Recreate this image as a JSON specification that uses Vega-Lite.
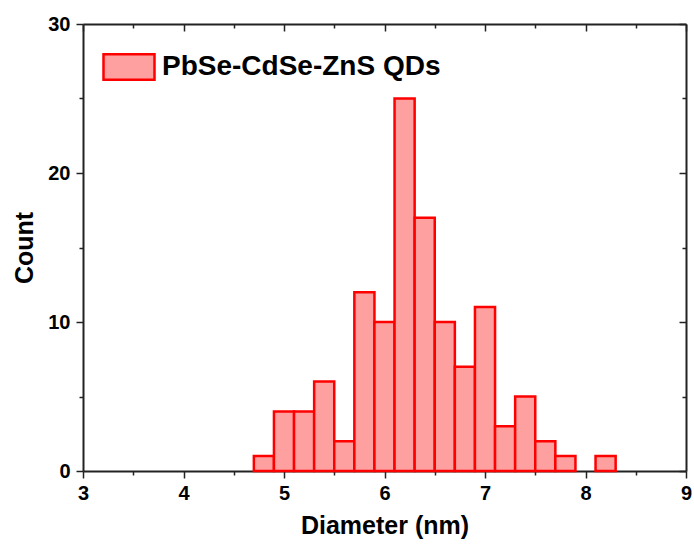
{
  "$schema": "https://vega.github.io/schema/vega-lite/v6.json",
  "autosize": {"type": "none"},
  "padding": {"left": 83, "top": 24, "right": 8, "bottom": 75},
  "width": 603,
  "height": 447,
  "config": {
    "view": {"stroke": null},
    "font": "Liberation Sans",
    "axis": {
      "labelFont": "Liberation Sans",
      "labelFontWeight": "bold",
      "labelFontSize": 20,
      "labelColor": "#000000",
      "titleFont": "Liberation Sans",
      "titleFontWeight": "bold",
      "titleFontSize": 25,
      "titleColor": "#000000",
      "domainColor": "#222222",
      "domainWidth": 2,
      "tickColor": "#222222",
      "tickWidth": 1.5,
      "grid": false
    }
  },
  "data": {
    "values": [
      {"start": 4.7, "end": 4.9, "count": 1},
      {"start": 4.9, "end": 5.1, "count": 4},
      {"start": 5.1, "end": 5.3, "count": 4},
      {"start": 5.3, "end": 5.5, "count": 6},
      {"start": 5.5, "end": 5.7, "count": 2},
      {"start": 5.7, "end": 5.9, "count": 12},
      {"start": 5.9, "end": 6.1, "count": 10},
      {"start": 6.1, "end": 6.3, "count": 25},
      {"start": 6.3, "end": 6.5, "count": 17},
      {"start": 6.5, "end": 6.7, "count": 10},
      {"start": 6.7, "end": 6.9, "count": 7},
      {"start": 6.9, "end": 7.1, "count": 11},
      {"start": 7.1, "end": 7.3, "count": 3},
      {"start": 7.3, "end": 7.5, "count": 5},
      {"start": 7.5, "end": 7.7, "count": 2},
      {"start": 7.7, "end": 7.9, "count": 1},
      {"start": 8.1, "end": 8.3, "count": 1}
    ]
  },
  "layer": [
    {
      "mark": {"type": "bar", "strokeWidth": 2.5, "fillOpacity": 1},
      "encoding": {
        "x": {
          "field": "start", "type": "quantitative",
          "scale": {"domain": [3, 9], "nice": false, "zero": false},
          "axis": {
            "orient": "bottom",
            "title": "Diameter (nm)",
            "titlePadding": 10,
            "values": [3, 3.5, 4, 4.5, 5, 5.5, 6, 6.5, 7, 7.5, 8, 8.5, 9],
            "labelExpr": "datum.value % 1 === 0 ? format(datum.value, 'd') : ''",
            "tickSize": {"condition": {"test": "datum.value % 1 === 0", "value": 7}, "value": 4},
            "labelPadding": 5,
            "labelFlush": false
          }
        },
        "x2": {"field": "end"},
        "y": {
          "field": "count", "type": "quantitative",
          "scale": {"domain": [0, 30], "nice": false},
          "axis": {
            "orient": "left",
            "title": "Count",
            "titlePadding": 10,
            "values": [0, 5, 10, 15, 20, 25, 30],
            "labelExpr": "datum.value % 10 === 0 ? format(datum.value, 'd') : ''",
            "tickSize": {"condition": {"test": "datum.value % 10 === 0", "value": 7}, "value": 4},
            "labelPadding": 6,
            "labelFlush": false
          }
        },
        "y2": {"datum": 0},
        "fill": {
          "datum": "PbSe-CdSe-ZnS QDs",
          "type": "nominal",
          "scale": {"range": ["#ffa0a0"]},
          "legend": {
            "title": null,
            "orient": "none",
            "legendX": 19,
            "legendY": 16,
            "padding": 0,
            "symbolType": "M-1,-0.5H1V0.5H-1Z",
            "symbolSize": 2601,
            "symbolStrokeColor": "#ff0000",
            "symbolStrokeWidth": 2.5,
            "symbolFillColor": "#ffa0a0",
            "labelFont": "Liberation Sans",
            "labelFontWeight": "bold",
            "labelFontSize": 28,
            "labelColor": "#000000",
            "labelOffset": 6,
            "labelLimit": 500
          }
        },
        "stroke": {
          "datum": "PbSe-CdSe-ZnS QDs",
          "type": "nominal",
          "scale": {"range": ["#ff0000"]},
          "legend": null
        }
      }
    },
    {
      "mark": {"type": "bar", "opacity": 0},
      "encoding": {
        "x": {
          "field": "start", "type": "quantitative",
          "axis": {
            "orient": "top",
            "title": null,
            "values": [3, 3.5, 4, 4.5, 5, 5.5, 6, 6.5, 7, 7.5, 8, 8.5, 9],
            "labels": false,
            "tickSize": {"condition": {"test": "datum.value % 1 === 0", "value": -7}, "value": -4}
          }
        },
        "x2": {"field": "end"},
        "y": {
          "field": "count", "type": "quantitative",
          "axis": {
            "orient": "right",
            "title": null,
            "values": [0, 5, 10, 15, 20, 25, 30],
            "labels": false,
            "tickSize": {"condition": {"test": "datum.value % 10 === 0", "value": -7}, "value": -4}
          }
        },
        "y2": {"datum": 0}
      }
    }
  ],
  "resolve": {"axis": {"x": "independent", "y": "independent"}}
}
